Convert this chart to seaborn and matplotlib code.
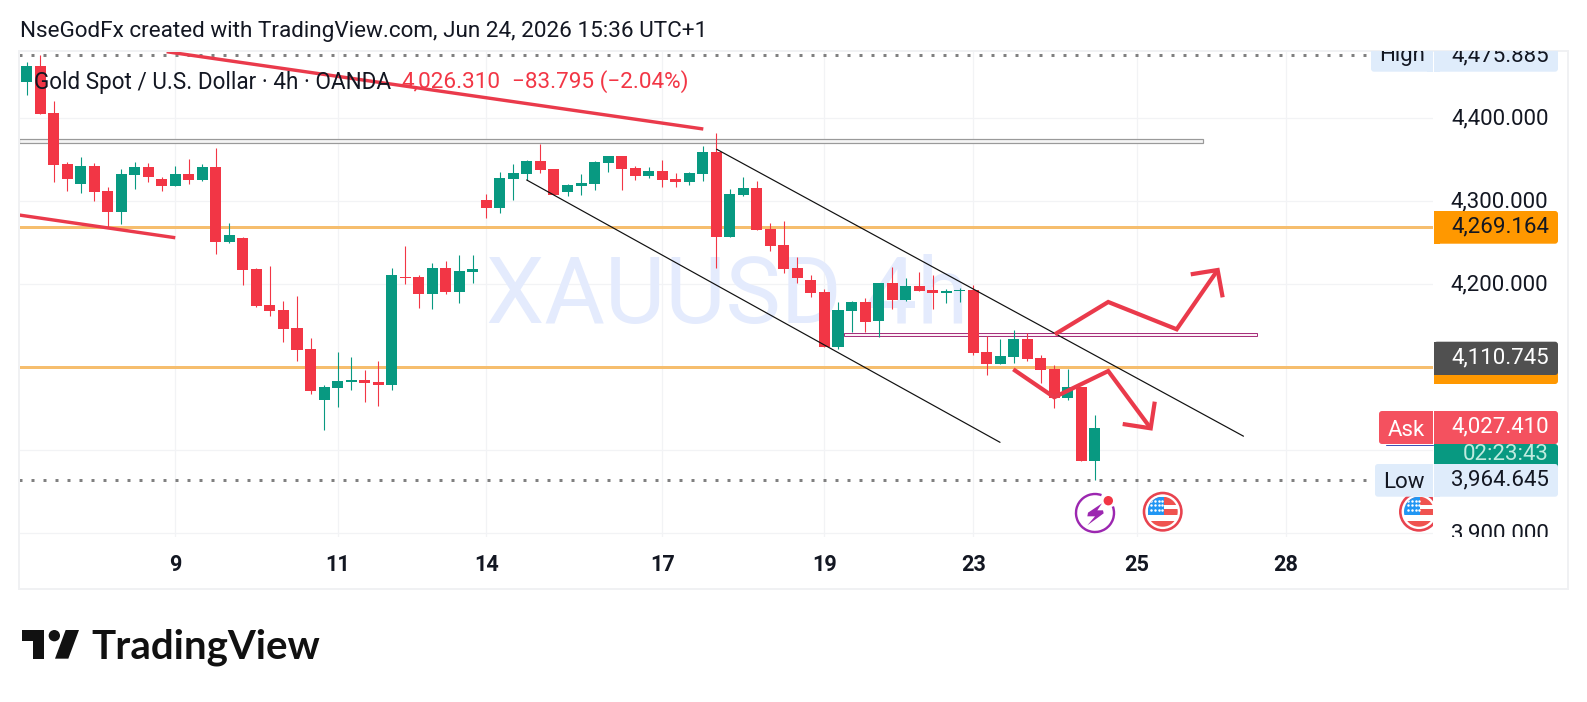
import numpy as np
import pandas as pd
import matplotlib
matplotlib.use("Agg")
import matplotlib.pyplot as plt
from matplotlib.patches import Rectangle, FancyBboxPatch, Polygon, Circle, Arc
from matplotlib.transforms import Bbox, ScaledTranslation
import seaborn as sns

# ---------- data ----------
opens = [4443.8,4463.1,4406.4,4345.0,4320.9,4342.6,4312.5,4287.2,4331.7,4341.4,4326.9,4318.5,4332.9,4325.7,4341.4,4251.0,
         4255.8,4218.5,4175.1,4169.1,4147.4,4122.1,4060.6,4075.1,4082.3,4084.7,4082.3,4078.7,4209.2,4208.8,4188.4,4219.7,
         4190.8,4214.9,4301.6,4292.0,4326.9,4332.9,4348.6,4339.0,4311.3,4318.5,4320.9,4346.2,4354.6,4340.2,4330.5,4336.6,
         4326.9,4323.3,4332.9,4359.4,4257.0,4307.6,4316.1,4266.7,4247.4,4219.7,4205.2,4190.8,4124.5,4167.9,4178.7,4155.8,
         4201.6,4181.1,4198.0,4193.2,4189.5,4192.0,4193.2,4118.5,4104.0,4112.4,4134.1,4111.2,4098.0,4063.0,4076.3,3987.1]
highs = [4468.3,4475.9,4420.9,4347.4,4353.4,4346.2,4317.3,4339.0,4347.4,4346.2,4329.3,4342.6,4351.0,4345.0,4364.3,4273.9,
         4257.4,4219.3,4222.1,4179.9,4185.9,4135.4,4078.7,4118.5,4112.5,4096.8,4107.6,4219.7,4246.2,4211.2,4225.7,4228.1,
         4235.3,4235.3,4308.8,4335.4,4345.0,4349.8,4369.1,4339.0,4320.9,4332.9,4348.6,4354.6,4354.6,4342.6,4341.4,4349.8,
         4334.1,4335.4,4366.7,4382.3,4314.9,4329.3,4324.5,4273.9,4276.3,4232.9,4211.3,4194.4,4178.7,4179.9,4183.5,4201.6,
         4220.9,4207.6,4214.8,4211.2,4194.4,4195.6,4199.2,4137.7,4134.1,4145.0,4141.4,4114.9,4102.8,4098.0,4076.3,4042.6]
lows = [4428.1,4405.2,4323.3,4312.5,4310.0,4300.4,4269.5,4272.7,4314.9,4323.3,4312.5,4318.5,4320.9,4324.5,4236.5,4249.8,
        4199.2,4172.7,4161.9,4130.5,4107.6,4067.9,4024.5,4052.2,4072.7,4058.2,4053.4,4072.7,4200.4,4171.5,4170.3,4188.4,
        4177.5,4201.6,4279.9,4286.0,4301.6,4325.7,4334.1,4307.6,4306.4,4307.6,4313.7,4335.4,4313.7,4325.7,4328.1,4317.3,
        4317.3,4319.7,4324.5,4219.7,4257.0,4306.4,4265.5,4240.2,4213.7,4201.6,4184.8,4124.5,4122.1,4142.6,4142.6,4136.5,
        4170.3,4179.9,4192.0,4170.3,4177.5,4178.7,4114.9,4090.8,4104.0,4105.2,4107.6,4081.1,4051.0,4060.6,3987.1,3964.6]
closes = [4463.1,4405.2,4343.8,4326.9,4342.6,4311.2,4287.2,4332.9,4341.4,4329.3,4318.5,4332.9,4325.7,4341.4,4251.0,4259.4,
          4217.3,4173.9,4167.9,4146.2,4120.9,4071.5,4076.3,4083.5,4084.7,4081.1,4078.7,4211.2,4207.6,4188.4,4219.7,4190.8,
          4216.1,4218.5,4292.0,4328.1,4334.1,4348.6,4337.8,4307.6,4319.7,4322.1,4347.4,4354.6,4339.0,4330.5,4336.6,4325.7,
          4323.3,4334.1,4359.4,4257.0,4308.8,4316.1,4265.5,4246.2,4218.5,4207.6,4189.6,4124.5,4169.1,4178.7,4154.6,4201.6,
          4181.1,4198.0,4192.0,4189.5,4192.0,4193.2,4117.3,4104.0,4113.6,4134.1,4110.0,4096.8,4063.0,4076.3,3987.1,4026.3]

price_ticks = [4400, 4300, 4200, 4100, 4000, 3900]
price_tick_labels = ["4,400.000", "4,300.000", "4,200.000", "", "", "3,900.000"]
date_ticks = [11, 23, 34, 47, 59, 70, 82.1, 93.1]
date_labels = ["9", "11", "14", "17", "19", "23", "25", "28"]

high_price = 4475.885
low_price = 3964.645
orange_levels = [4269.164, 4100.4]
gray_zone_x = [-0.555, 87.01]
gray_zone_y = [4369.9, 4374.7]
pink_zone_x = [60.44, 91.0]
pink_zone_y = [4137.3, 4140.9]

red_line_a_x = [10.36, 50.04]
red_line_a_y = [4480.2, 4387.1]
red_line_b_x = [-0.555, 11.0]
red_line_b_y = [4283.5, 4256.1]
channel_up_x = [51.03, 89.98]
channel_up_y = [4362.7, 4017.0]
channel_low_x = [36.98, 71.98]
channel_low_y = [4325.7, 4009.6]
path_up_x = [76.04, 79.98, 85.04, 88.07]
path_up_y = [4139.8, 4178.7, 4145.8, 4217.2]
head_up_x = [86.08, 88.07, 88.44]
head_up_y = [4212.0, 4217.2, 4184.3]
path_down_x = [72.96, 75.99, 79.98, 83.12]
path_down_y = [4097.6, 4063.9, 4095.5, 4026.5]
head_down_x = [81.05, 83.12, 83.42]
head_down_y = [4031.7, 4026.5, 4058.6]

# ---------- style ----------
W, H = 1587, 702
PX = 0.72
RED, GREEN = "#F23645", "#089981"
INK = "#131722"
GRID = "#F2F3F5"
FS = 16.05
FS_HEAD = 16.17
sns.set_theme(style="white")
plt.rcParams["font.family"] = ["Roboto", "DejaVu Sans"]

fig = plt.figure(figsize=(W / 100, H / 100), dpi=100, facecolor="white")
PANE = (19, 1433, 51, 536.7)
ax = fig.add_axes([PANE[0] / W, 1 - PANE[3] / H, (PANE[1] - PANE[0]) / W, (PANE[3] - PANE[2]) / H], zorder=1)

df = pd.DataFrame({"i": np.arange(len(opens)), "o": opens, "h": highs, "l": lows, "c": closes})
df["height"] = (df.c - df.o).abs()
df["base"] = df[["o", "c"]].min(axis=1)
df["up"] = df.c > df.o

ax.vlines(df.i[df.up], df.l[df.up], df.h[df.up], color=GREEN, lw=1.1 * PX, zorder=3)
ax.vlines(df.i[~df.up], df.l[~df.up], df.h[~df.up], color=RED, lw=1.1 * PX, zorder=3)
for mask, col in ((df.up, GREEN), (~df.up, RED)):
    sub = df[mask]
    sns.barplot(data=sub, x="i", y="height", bottom=sub["base"].to_numpy(), native_scale=True, color=col,
                saturation=1, width=0.815, errorbar=None, linewidth=0, zorder=4, ax=ax)

ax.set_xlim((19 - 26.5) / 13.525, (1433 - 26.5) / 13.525)
ax.set_ylim(4400 - (536.7 - 118.3) / 0.83, 4400 + (118.3 - 51) / 0.83)
ax.set_xlabel("")
ax.set_ylabel("")
for s in ax.spines.values():
    s.set_visible(False)
ax.set_axisbelow(True)
ax.grid(True, color=GRID, lw=1.2 * PX, zorder=0)
ax.set_xticks(date_ticks)
ax.set_xticklabels(date_labels, fontsize=15.6, fontweight="bold", color=INK)
ax.set_yticks(price_ticks)
ax.set_yticklabels(price_tick_labels, fontsize=FS, color=INK, ha="right")
ax.yaxis.tick_right()
ax.tick_params(axis="y", length=0, pad=115.5 * PX)
ax.tick_params(axis="x", length=0, pad=17 * PX)
nudge = ScaledTranslation(0, -1 / 100, fig.dpi_scale_trans)
for lab in ax.get_yticklabels():
    lab.set_verticalalignment("center")
    lab.set_transform(lab.get_transform() + nudge)
    lab.set_clip_on(True)
    lab.set_clip_box(Bbox([[1434, 702 - 536.7], [1560, 702 - 51]]))

# watermark
ax.text(33.97, 4153.4, "XAUUSD 4h", fontsize=93 * PX, color="#E4EBFD", va="baseline", ha="left", zorder=1)

# levels and zones
for lv in orange_levels:
    ax.axhline(lv, color="#F6BE6E", lw=3 * PX, zorder=2)
ax.add_patch(Rectangle((gray_zone_x[0], gray_zone_y[0]), gray_zone_x[1] - gray_zone_x[0], gray_zone_y[1] - gray_zone_y[0],
                       facecolor="#F4F4F4", edgecolor="#9A9A9A", lw=1.2 * PX, zorder=2))
ax.add_patch(Rectangle((pink_zone_x[0], pink_zone_y[0]), pink_zone_x[1] - pink_zone_x[0], pink_zone_y[1] - pink_zone_y[0],
                       facecolor="#FDF1F6", edgecolor="#A6307C", lw=1.0 * PX, zorder=2))
ax.axhline(high_price, color="#808080", lw=3 * PX, ls=(0, (1, 3)), zorder=2)
ax.axhline(low_price, color="#808080", lw=3 * PX, ls=(0, (1, 3)), zorder=2)

# drawings
ax.plot(channel_up_x, channel_up_y, color="#111111", lw=1.2 * PX, zorder=5)
ax.plot(channel_low_x, channel_low_y, color="#111111", lw=1.2 * PX, zorder=5)
arrow_col = "#EA3A4B"
for xs, ys in ((red_line_a_x, red_line_a_y), (red_line_b_x, red_line_b_y)):
    ax.plot(xs, ys, color=arrow_col, lw=3.4 * PX, zorder=5, solid_capstyle="butt")
for xs, ys in ((path_up_x, path_up_y), (head_up_x, head_up_y), (path_down_x, path_down_y), (head_down_x, head_down_y)):
    ax.plot(xs, ys, color=arrow_col, lw=4.2 * PX, zorder=5, solid_joinstyle="miter", solid_capstyle="butt")

# ---------- overlay in picture pixels ----------
ov = fig.add_axes([0, 0, 1, 1], zorder=2)
ov.set_xlim(0, W)
ov.set_ylim(H, 0)
ov.axis("off")
ov.patch.set_visible(False)

ov.add_patch(Rectangle((19, 50.5), 1549, 538, fill=False, edgecolor="#F0F1F3", lw=2 * PX))
ov.text(19.5, 31, "NseGodFx created with TradingView.com, Jun 24, 2026 15:36 UTC+1", fontsize=FS_HEAD, color=INK, va="center")
ov.text(34.5, 82, "Gold Spot / U.S. Dollar \u00b7 4h \u00b7 OANDA", fontsize=FS_HEAD + 0.05, color=INK, va="center")
ov.text(401.5, 82, "4,026.310", fontsize=FS_HEAD, color=RED, va="center")
ov.text(512, 82, "\u221283.795 (\u22122.04%)", fontsize=FS_HEAD, color=RED, va="center")

# logo
for pts in ([(67, 330), (133, 330), (133, 416), (100, 416), (100, 363), (67, 363)],
            [(237, 330), (205, 416), (165, 416), (197, 330)]):
    ov.add_patch(Polygon([(x / 3, 520 + y / 3) for x, y in pts], closed=True, facecolor="#111111", edgecolor="none"))
ov.add_patch(Circle((163 / 3, 520 + 347 / 3), 17 / 3, facecolor="#111111", edgecolor="none"))
ov.text(91.5, 658.7, "TradingView", fontsize=29, color="#111111", family="Lato", fontweight="bold", va="baseline")


def circle_clip(cx, cy, r, xmax=1433):
    t = np.linspace(0, 2 * np.pi, 120)
    pts = np.c_[np.minimum(cx + r * np.cos(t), xmax), cy + r * np.sin(t)]
    return Polygon(pts, closed=True, transform=ov.transData)


def flag(cx, cy):
    ring = Circle((cx, cy), 18.7, facecolor="white", edgecolor="#E8434F", lw=2.6 * PX, zorder=6)
    ov.add_patch(ring)
    ring.set_clip_path(circle_clip(cx, cy, 21))
    clip = circle_clip(cx, cy, 15)
    rects = [(-15, -15, 30, 8, "#EF5350"), (0, -3, 15, 6, "#EF5350"), (-15, 9.5, 30, 7, "#EF5350"),
             (-15, -15, 16, 18, "#2196F3")]
    for dx, dy, w, h, c in rects:
        r = Rectangle((cx + dx, cy + dy), w, h, facecolor=c, edgecolor="none", zorder=7)
        ov.add_patch(r)
        r.set_clip_path(clip)
    sx, sy = np.meshgrid([-11.5, -7.5, -3.5, -0.5], [-11, -6.5, -2])
    pts = ov.scatter(cx + sx.ravel(), cy + sy.ravel(), s=3.2, c="white", linewidths=0, zorder=8)
    pts.set_clip_path(clip)


flag(1162.7, 511.7)
flag(1419, 511.7)

# event icon
ov.add_patch(Arc((1095, 513), 38, 38, theta1=340, theta2=650, edgecolor="#9C27B0", lw=2.4 * PX, zorder=6))
ov.add_patch(Polygon([(800 + x / 3, 240 + y / 3) for x, y in
                      [(906, 790), (864, 818), (862, 829), (885, 829), (862, 856), (911, 820), (909, 811), (892, 811)]],
                     closed=True, facecolor="#9C27B0", edgecolor="none", zorder=6))
ov.add_patch(Circle((1108.3, 500.7), 4.7, facecolor=RED, edgecolor="none", zorder=7))


# price labels
clip_rect = Rectangle((1340, 51), 240, 485.7, transform=ov.transData)


def box(x0, x1, y0, y1, color, z, rounded="right"):
    r = FancyBboxPatch((x0, y0), x1 - x0, y1 - y0, boxstyle="round,pad=0,rounding_size=3", facecolor=color,
                       edgecolor="none", zorder=z, mutation_aspect=1)
    s = Rectangle((x1 - 6, y0), 6, y1 - y0, facecolor=color, edgecolor="none", zorder=z) if rounded == "left" else \
        Rectangle((x0, y0), 6, y1 - y0, facecolor=color, edgecolor="none", zorder=z)
    for p in (r, s):
        ov.add_patch(p)
        p.set_clip_path(clip_rect)


def value(y, s, color, z):
    t = ov.text(1549, y, s, fontsize=FS, color=color, ha="right", va="center", zorder=z, clip_on=True)
    t.set_clip_path(clip_rect)


def side(x, y, s, color, z):
    t = ov.text(x, y, s, fontsize=FS, color=color, ha="center", va="center", zorder=z, clip_on=True)
    t.set_clip_path(clip_rect)


LB = "#DFECFB"
box(1434, 1558, 39.5, 71.7, LB, 10)
box(1371, 1433, 39.5, 71.7, LB, 10, "left")
value(55.5, "4,475.885", INK, 11)
side(1402, 56, "High", INK, 11)

box(1434, 1558, 211, 243.7, "#FF9800", 10)
value(226.5, "4,269.164", INK, 11)

box(1434, 1558, 352, 384, "#FF9800", 10)
box(1434, 1558, 341.7, 375, "#505050", 11)
value(357.5, "4,110.745", "white", 12)

box(1434, 1558, 444, 478, GREEN, 10)
value(454.7, "02:23:43", "#BFEBDF", 11)
box(1434, 1558, 411, 444, "#F4515F", 12)
box(1379, 1433, 411, 444, "#F4515F", 12, "left")
ov.plot([1386, 1433], [444.5, 444.5], color="#3F51B5", lw=1 * PX, zorder=11)
value(426.7, "4,027.410", "white", 13)
side(1406, 431, "Ask", "white", 13)

box(1434, 1558, 464, 496.7, LB, 14)
box(1375, 1433, 464, 496.7, LB, 14, "left")
value(480, "3,964.645", INK, 15)
side(1404, 483, "Low", INK, 15)

fig.savefig("out.png", dpi=100, facecolor="white")
